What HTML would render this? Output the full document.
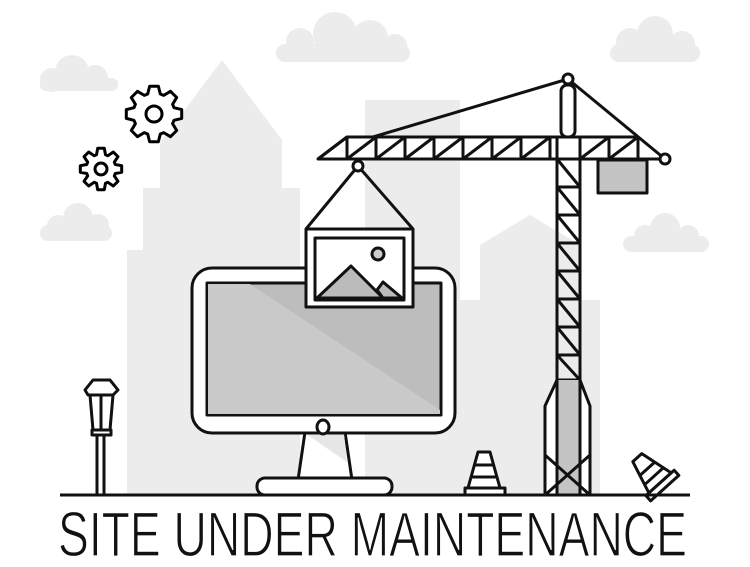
<!DOCTYPE html>
<html><head><meta charset="utf-8"><style>
html,body{margin:0;padding:0;background:#fff}
svg{display:block}
</style></head><body>
<svg id="s" width="750" height="567" viewBox="0 0 750 567" xmlns="http://www.w3.org/2000/svg">
<g fill="#ececec">
<g><circle cx="52" cy="80" r="12"/><circle cx="72" cy="72" r="17"/><circle cx="95" cy="78" r="13"/><rect x="40" y="78" width="78" height="13" rx="6"/></g>
<g><circle cx="300" cy="42" r="14"/><circle cx="335" cy="34" r="22"/><circle cx="370" cy="38" r="18"/><circle cx="395" cy="46" r="12"/><rect x="276" y="44" width="134" height="18" rx="9"/></g>
<g><circle cx="630" cy="42" r="14"/><circle cx="655" cy="34" r="18"/><circle cx="682" cy="44" r="13"/><rect x="610" y="44" width="90" height="18" rx="9"/></g>
<g><circle cx="58" cy="226" r="11"/><circle cx="78" cy="218" r="15"/><circle cx="98" cy="225" r="11"/><rect x="40" y="225" width="72" height="16" rx="8"/></g>
<g><circle cx="645" cy="236" r="11"/><circle cx="665" cy="228" r="15"/><circle cx="688" cy="236" r="11"/><rect x="623" y="236" width="86" height="16" rx="8"/></g>
<polygon points="127,495 127,250 143,250 143,188 160,188 160,143 222,60 282,140 282,188 300,188 300,495"/>
<rect x="365" y="100" width="95" height="395"/>
<polygon points="480,495 480,245 530,215 580,245 580,495"/>
<rect x="460" y="300" width="140" height="195"/>
</g>
<g id="gears" fill="none" stroke="#000" stroke-width="3" stroke-linejoin="round"></g>
<g fill="none" stroke="#111" stroke-width="3" stroke-linejoin="round">
<line x1="97" y1="395" x2="97" y2="495"/><line x1="104" y1="395" x2="104" y2="495"/>
<polygon points="93,380 110,380 118,390 113,395 88,395 85,390" fill="#fff"/>
<polygon points="90,395 113,395 110,430 93,430" fill="#fff"/>
<line x1="101" y1="395" x2="101" y2="430"/>
<rect x="92" y="430" width="19" height="5" fill="#fff"/>
<path d="M305,432 L298,480 L352,480 L345,432 Z" fill="#fff"/>
<polygon points="306,434 344,434 347,462" fill="#e6e6e6" stroke="none"/>
<rect x="257" y="478" width="135" height="17" rx="8" fill="#fff"/>
<rect x="192" y="268" width="263" height="165" rx="20" fill="#fff"/>
<rect x="207" y="283" width="234" height="132" fill="#bdbdbd"/>
<polygon points="208,284 250,284 440,410 440,414 208,414" fill="#c9c9c9" stroke="none"/>
<ellipse cx="323" cy="427" rx="6" ry="7" fill="#fff"/>
<polyline points="306,229 358,166 413,229"/>
<circle cx="358" cy="166" r="5" fill="#fff"/>
<rect x="306" y="229" width="107" height="78" fill="#fff"/>
<rect x="315" y="238" width="89" height="62" fill="#fff"/>
<polygon points="317,298 351,266 383,298" fill="#bbb"/>
<polygon points="377,290 383,282 402,298 383,298" fill="#bbb"/>
<circle cx="378" cy="254" r="6" fill="#ccc"/>
<line x1="568" y1="79" x2="373" y2="137"/>
<line x1="568" y1="79" x2="665" y2="159"/>
<rect x="561" y="85" width="14" height="52" rx="6" fill="#fff"/>
<circle cx="568" cy="79" r="5" fill="#fff"/>
<polygon points="318,159 347,137 638,137 638,159" fill="#fff"/>
<line x1="318" y1="159" x2="667" y2="159"/>
<g id="jib"></g>
<rect x="557" y="137" width="23" height="22" fill="#fff"/>
<rect x="598" y="160" width="49" height="33" fill="#c4c4c4"/>
<circle cx="665" cy="159" r="5" fill="#fff"/>
<line x1="557" y1="159" x2="557" y2="380"/><line x1="580" y1="159" x2="580" y2="380"/>
<g id="tow"></g>
<polygon points="557,380 580,380 590,406 590,495 545,495 545,406" fill="#fff"/>
<rect x="558" y="380" width="22" height="115" fill="#c4c4c4" stroke="none"/>
<line x1="557" y1="380" x2="557" y2="495"/><line x1="580" y1="380" x2="580" y2="495"/>
<line x1="545" y1="455" x2="590" y2="495"/><line x1="590" y1="455" x2="545" y2="495"/>
<polygon points="478,452 490,452 500,488 468,488" fill="#fff"/>
<line x1="475" y1="465" x2="493" y2="465"/><line x1="472" y1="477" x2="496" y2="477"/>
<rect x="465" y="488" width="40" height="7" fill="#fff"/>
<g transform="translate(652,474) rotate(-42)">
<polygon points="-6,-22 6,-22 15,12 -15,12" fill="#fff"/>
<line x1="-10" y1="-7" x2="10" y2="-7"/><line x1="-13" y1="3" x2="13" y2="3"/>
<rect x="-19" y="12" width="38" height="7" fill="#fff"/>
</g>
<line x1="60" y1="495" x2="690" y2="495" stroke-width="3"/>
</g>
<text x="58" y="556" textLength="629" lengthAdjust="spacingAndGlyphs" font-family="'Liberation Sans Narrow','Liberation Sans',sans-serif" font-size="63" fill="#111" stroke="#fff" stroke-width="1.2">SITE UNDER MAINTENANCE</text>
</svg>
<script>
var NS="http://www.w3.org/2000/svg";
function gear(cx,cy,R,r,h){var p=[];for(var k=0;k<8;k++){var a=k*45;[[a-22.5+5,r],[a-9,R],[a+9,R],[a+22.5-5,r]].forEach(function(q){var t=q[0]*Math.PI/180;p.push((cx+q[1]*Math.cos(t)).toFixed(1)+","+(cy+q[1]*Math.sin(t)).toFixed(1));});}
var g=document.getElementById("gears");var pl=document.createElementNS(NS,"polygon");pl.setAttribute("points",p.join(" "));pl.setAttribute("fill","#fff");g.appendChild(pl);
var c=document.createElementNS(NS,"circle");c.setAttribute("cx",cx);c.setAttribute("cy",cy);c.setAttribute("r",h);g.appendChild(c);}
gear(154,114,28,21,8);gear(101,169,21,15,6);
var j=document.getElementById("jib");
function ln(g,a,b,c,d){var l=document.createElementNS(NS,"line");l.setAttribute("x1",a);l.setAttribute("y1",b);l.setAttribute("x2",c);l.setAttribute("y2",d);g.appendChild(l);}
var xs=[347,376,405,434,463,492,521,550];
for(var i=0;i<xs.length;i++){ln(j,xs[i],137,xs[i],159);if(i<xs.length-1)ln(j,xs[i],159,xs[i+1],137);}
ln(j,318,159,347,137);
ln(j,580,137,580,159);ln(j,609,137,609,159);ln(j,580,159,609,137);ln(j,609,159,638,137);ln(j,638,137,638,159);
var t=document.getElementById("tow");
for(var y=159;y<380;y+=28){ln(t,557,y,580,y);ln(t,557,y,580,y+28>380?380:y+28);}
</script>
</body></html>
